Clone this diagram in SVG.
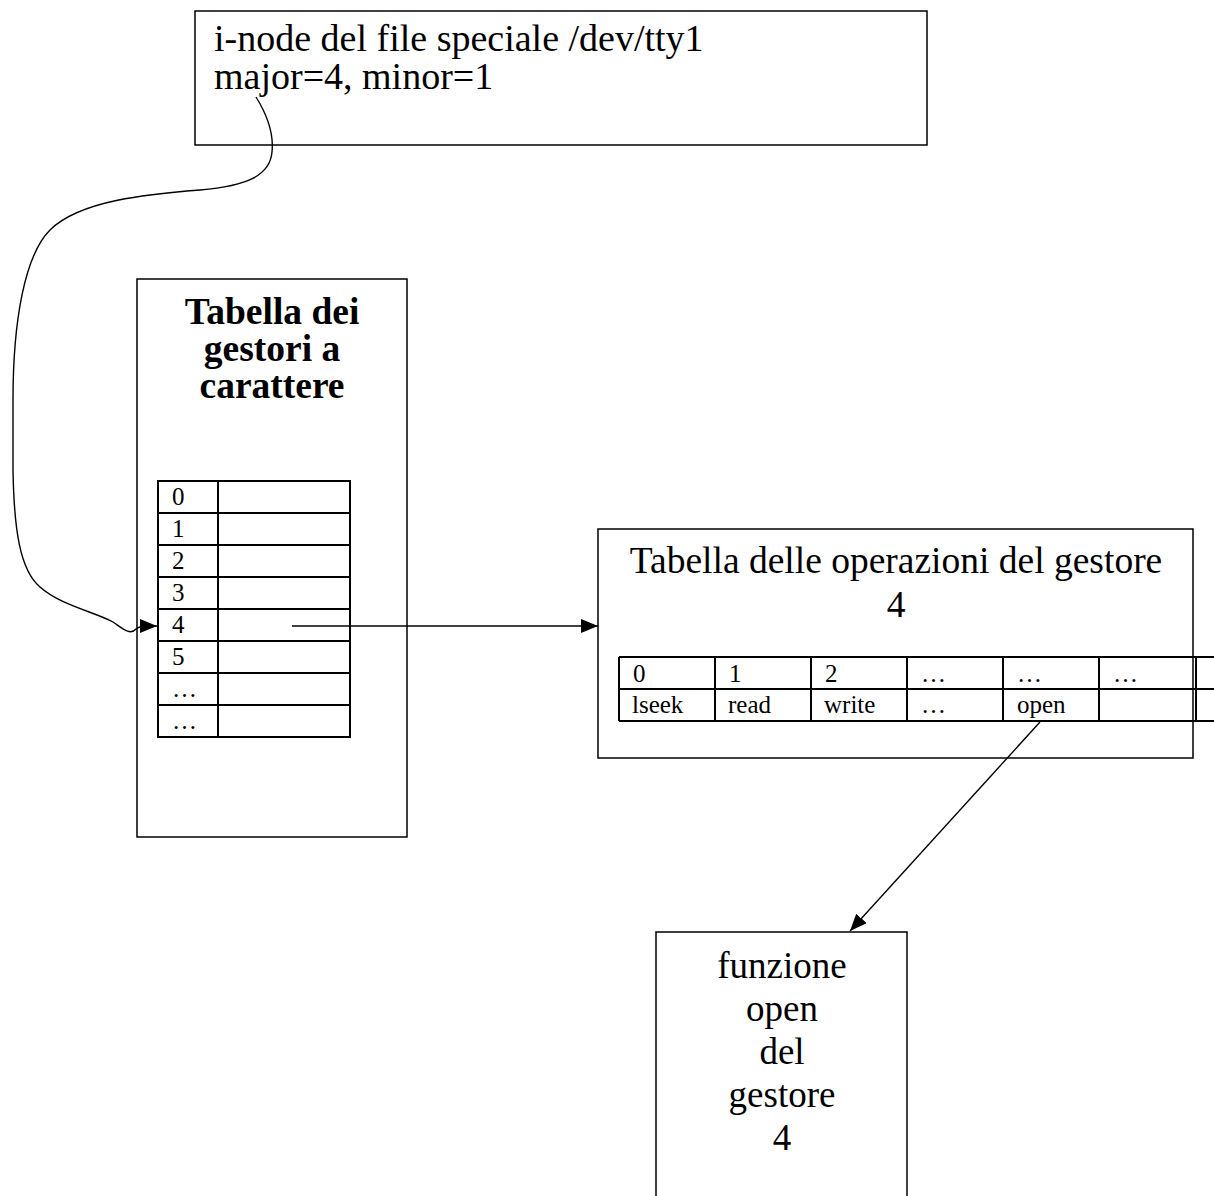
<svg xmlns="http://www.w3.org/2000/svg" width="1214" height="1196" viewBox="0 0 1214 1196">
<style>
.box{fill:#fff;stroke:#000;stroke-width:1.5}
.tbl{fill:none;stroke:#000;stroke-width:2}
.t{font-family:"Liberation Serif","Times New Roman",serif;fill:#000}
.big{font-size:37px}
.sm{font-size:25px}
.b{font-weight:bold}
.c{text-anchor:middle}
.conn{fill:none;stroke:#000;stroke-width:1.4}
</style>
<defs>
<marker id="ah" markerUnits="userSpaceOnUse" markerWidth="17" markerHeight="14" refX="17" refY="7" orient="auto">
<path d="M0,0 L17,7 L0,14 z" fill="#000"/>
</marker>
</defs>
<rect width="1214" height="1196" fill="#fff"/>

<g id="inode">
<rect class="box" x="195" y="11" width="732" height="134"/>
<text class="t" x="214" y="51" font-size="38">i-node del file speciale /dev/tty1</text>
<text class="t" x="214" y="89" font-size="38">major=4, minor=1</text>
</g>

<g id="tabella-gestori">
<rect class="box" x="137" y="279" width="270" height="558"/>
<text class="t b c" font-size="37.5" x="272" y="324">Tabella dei</text>
<text class="t b c" font-size="37.5" x="272" y="361">gestori a</text>
<text class="t b c" font-size="37.5" x="272" y="398">carattere</text>
<g class="tbl">
<rect x="158" y="481" width="192" height="256"/>
<path d="M218,481 V737 M158,513 H350 M158,545 H350 M158,577 H350 M158,609 H350 M158,641 H350 M158,673 H350 M158,705 H350"/>
</g>
<g class="t sm">
<text x="172" y="505">0</text>
<text x="172" y="537">1</text>
<text x="172" y="569">2</text>
<text x="172" y="601">3</text>
<text x="172" y="633">4</text>
<text x="172" y="665">5</text>
<text x="172" y="697">…</text>
<text x="172" y="729">…</text>
</g>
</g>

<g id="tabella-operazioni">
<rect class="box" x="598" y="529" width="595" height="229"/>
<text class="t c" font-size="37.5" x="896" y="573">Tabella delle operazioni del gestore</text>
<text class="t c" font-size="37.5" x="896" y="617">4</text>
<g class="tbl">
<path d="M619,657 H1220 M619,689 H1220 M619,721 H1220 M619,657 V721 M715,657 V721 M811,657 V721 M907,657 V721 M1003,657 V721 M1099,657 V721 M1196,657 V721"/>
</g>
<g class="t sm">
<text x="633" y="682">0</text>
<text x="729" y="682">1</text>
<text x="825" y="682">2</text>
<text x="921" y="682">…</text>
<text x="1017" y="682">…</text>
<text x="1113" y="682">…</text>
<text x="632" y="713">lseek</text>
<text x="728" y="713">read</text>
<text x="824" y="713">write</text>
<text x="921" y="713">…</text>
<text x="1017" y="713">open</text>
</g>
</g>

<g id="funzione-open">
<rect class="box" x="656" y="932" width="251" height="280"/>
<text class="t big c" x="782" y="978">funzione</text>
<text class="t big c" x="782" y="1021">open</text>
<text class="t big c" x="782" y="1064">del</text>
<text class="t big c" x="782" y="1107">gestore</text>
<text class="t big c" x="782" y="1150">4</text>
</g>

<g id="connectors">
<path class="conn" marker-end="url(#ah)" d="M256,97 C266,113 274,133 272,152 C270,175 248,186 200,190 C150,194 80,200 50,230 C25,255 13,320 13,400 L13,470 C14,530 20,570 40,587 C60,605 95,612 113,622 C122,628 130,636 136,629 C138,627 140,626 157,626"/>
<path class="conn" marker-end="url(#ah)" d="M292,626 H598"/>
<path class="conn" marker-end="url(#ah)" d="M1040,722 L850,931"/>
</g>
</svg>
